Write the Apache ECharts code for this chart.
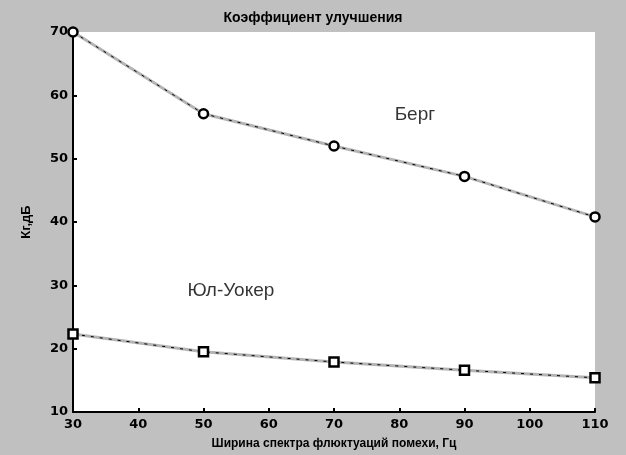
<!DOCTYPE html>
<html><head><meta charset="utf-8">
<script src="https://cdn.jsdelivr.net/npm/echarts@6/dist/echarts.min.js"></script>
<style>html,body{margin:0;padding:0;background:#c0c0c0}#c{width:626px;height:455px}</style>
</head><body><div id="c"></div>
<script>
const xValues = [30, 50, 70, 90, 110];
const bergValues = [70, 57.1, 52, 47.2, 40.8];
const yuleValues = [22.3, 19.5, 17.9, 16.6, 15.4];
const xTicks = [30, 40, 50, 60, 70, 80, 90, 100, 110];
const yTicks = [10, 20, 30, 40, 50, 60, 70];
const titleText = 'Коэффициент улучшения';
const xName = 'Ширина спектра флюктуаций помехи, Гц';
const yName = 'Кг,дБ';
const bergLabel = 'Берг';
const bergLabelAt = [82.4, 56.9];
const yuleLabel = 'Юл-Уокер';
const yuleLabelAt = [54.2, 29.1];

const pairs = a => xValues.map((x, i) => [x, a[i]]);
const font = '"Liberation Sans", Arial, sans-serif';
const tickFont = '"DejaVu Sans", sans-serif';
const chart = echarts.init(document.getElementById('c'));
function grayLine(a){return {type:'line',data:pairs(a),symbol:'none',lineStyle:{color:'#b4b4b4',width:3},z:2,silent:true};}
function blackLine(a, sym){return {type:'line',data:pairs(a),symbol:sym,symbolSize:9,
  itemStyle:{color:'#fff',borderColor:'#000',borderWidth:2.5},
  lineStyle:{color:'#000',width:1,type:[3,6]},z:3,silent:true};}
function textMark(text, at){return {type:'scatter',data:[at],symbolSize:0,silent:true,z:5,
  label:{show:true,position:'inside',formatter:text,fontFamily:font,fontSize:19,color:'#000'}};}
chart.setOption({
  backgroundColor:'#c0c0c0',
  animation:false,
  title:{text:titleText,left:'center',top:6,textStyle:{fontFamily:font,fontSize:14,fontWeight:'bold',color:'#000'}},
  grid:{left:73,right:31,top:32,bottom:42,show:true,backgroundColor:'#fff',borderWidth:0},
  xAxis:{type:'value',min:30,max:110,interval:10,
    name:xName,nameLocation:'middle',nameGap:26,
    nameTextStyle:{fontFamily:font,fontSize:12,fontWeight:'bold',color:'#000'},
    axisLine:{lineStyle:{color:'#000',width:2}},
    axisTick:{inside:true,length:4,lineStyle:{color:'#000',width:2}},
    axisLabel:{fontFamily:tickFont,fontSize:13,fontWeight:'bold',color:'#000',margin:6,
      formatter:v=>xTicks.includes(v)?String(v):''},
    splitLine:{show:false}},
  yAxis:{type:'value',min:10,max:70,interval:10,
    name:yName,nameLocation:'middle',nameGap:40,
    nameTextStyle:{fontFamily:font,fontSize:13,fontWeight:'bold',color:'#000'},
    axisLine:{show:true,lineStyle:{color:'#000',width:2}},
    axisTick:{show:true,inside:true,length:4,lineStyle:{color:'#000',width:2}},
    axisLabel:{fontFamily:tickFont,fontSize:13,fontWeight:'bold',color:'#000',margin:5,
      formatter:v=>yTicks.includes(v)?String(v):''},
    splitLine:{show:false}},
  series:[
    grayLine(bergValues), blackLine(bergValues,'circle'),
    grayLine(yuleValues), blackLine(yuleValues,'rect'),
    textMark(bergLabel, bergLabelAt), textMark(yuleLabel, yuleLabelAt)
  ]
});
</script></body></html>
